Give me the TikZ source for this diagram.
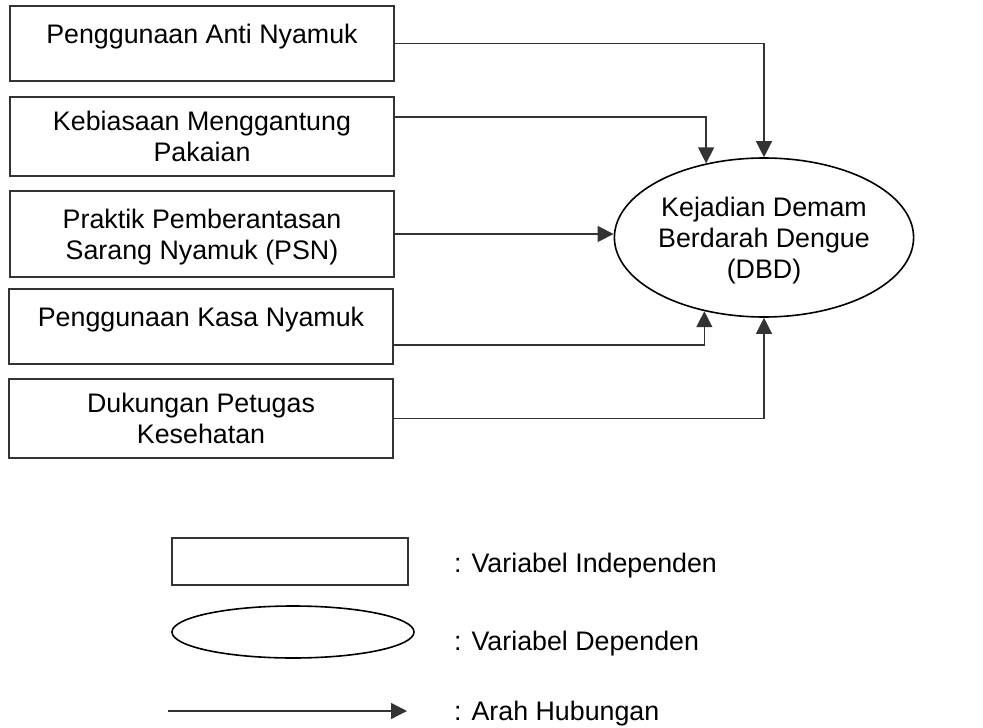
\documentclass[tikz,border=0pt]{standalone}
\usepackage{fontspec}
\setmainfont{Liberation Sans}
\usetikzlibrary{arrows.meta,shapes.geometric}

\begin{document}
\begin{tikzpicture}[x=1pt,y=-1pt,
    varbox/.style={draw=black!80,line width=1.5pt,minimum width=384pt,inner sep=0pt,
        align=center,text depth=0pt,font=\fontsize{26.8}{31}\selectfont},
    oneline/.style={text height=18pt,text depth=18pt},
    depbox/.style={ellipse,draw=black,line width=1.6pt,inner sep=0pt,align=center,
        text depth=0pt,font=\fontsize{26.8}{31}\selectfont},
    hub/.style={draw=black!80,line width=1.3pt,-{Triangle[length=16pt,width=16pt]}}]
\useasboundingbox (0,0) rectangle (983,728);

%variabel independen
\node[varbox,oneline,minimum height=75pt] (nAnti) at (202,43.5) {Penggunaan Anti Nyamuk};
\node[varbox,minimum height=79pt] (nPakaian) at (202,136.5) {Kebiasaan Menggantung\\Pakaian};
\node[varbox,minimum height=86pt] (nPSN) at (202,234) {Praktik Pemberantasan\\Sarang Nyamuk (PSN)};
\node[varbox,oneline,minimum height=75pt] (nKasa) at (201,326.5) {Penggunaan Kasa Nyamuk};
\node[varbox,minimum height=79pt] (nPetugas) at (201,418.5) {Dukungan Petugas\\Kesehatan};

%variabel dependen
\node[depbox,minimum width=298pt,minimum height=159pt] (nDBD) at (764,237.5)
    {Kejadian Demam\\Berdarah Dengue\\(DBD)};

%arah hubungan
\draw[hub] (nAnti.east) -| (nDBD.north);
\draw[hub] ([yshift=19.5pt]nPakaian.east) -| (nDBD.128);
\draw[hub] (nPSN.east) -- (nPSN.east -| nDBD.west);
\draw[hub] ([yshift=-18.5pt]nKasa.east) -| (nDBD.231);
\draw[hub] (nPetugas.east) -| (nDBD.south);

%keterangan
\node[varbox,line width=2pt,minimum width=236pt,minimum height=47pt] (nLegBox) at (290,561) {};
\node[depbox,minimum width=242pt,minimum height=52pt] (nLegEll) at (293,632) {};
\coordinate (cLegAPt) at (168,711);
\coordinate (cLegBPt) at (407,711);
\draw[hub] (cLegAPt) -- (cLegBPt);

\foreach \n/\y/\t in
{tInd/572/{: Variabel Independen},
    tDep/650/{: Variabel Dependen},
    tArah/720/{: Arah Hubungan}}
{
    \node[anchor=base west,inner sep=0pt,font=\fontsize{26.8}{31}\selectfont] (\n) at (454,\y) {\t};
};

\end{tikzpicture}
\end{document}
